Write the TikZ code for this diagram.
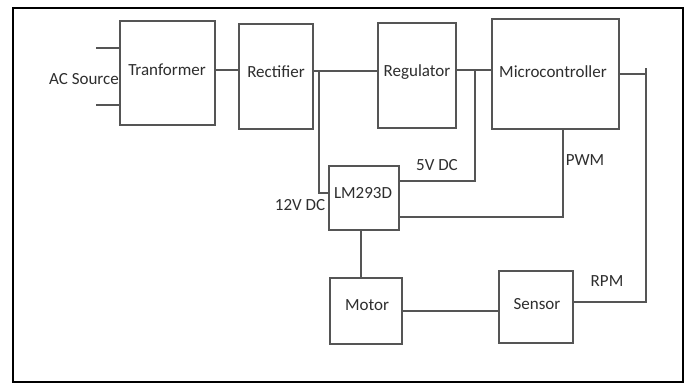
\documentclass[tikz,border=0pt]{standalone}
\usepackage{fontspec}
\setmainfont{Carlito}
\begin{document}
\begin{tikzpicture}[x=1pt,y=-1pt,
  blk/.style={draw=linecol,line width=1.3pt,rectangle,inner sep=0pt},
  wire/.style={draw=linecol,line width=1.3pt},
  lbl/.style={text=textcol,font=\fontsize{17}{19}\selectfont,inner sep=0pt}]
\definecolor{linecol}{HTML}{555555}
\definecolor{textcol}{HTML}{2E2E2E}
\useasboundingbox (0,0) rectangle (690,384);
\fill[white] (0,0) rectangle (690,384);
\draw[black,line width=1.8pt] (13,8) rectangle (683,382);
% blocks
\node[blk,minimum width=95pt,minimum height=104pt] (tr) at (167.5,73) {};
\node[blk,minimum width=74pt,minimum height=105pt] (rect) at (276,76.5) {};
\node[blk,minimum width=78pt,minimum height=105pt] (reg) at (417,75.5) {};
\node[blk,minimum width=127pt,minimum height=110pt] (mc) at (555.5,74) {};
\node[blk,minimum width=70pt,minimum height=64pt] (lm) at (364,198) {};
\node[blk,minimum width=72pt,minimum height=66pt] (mot) at (366,311) {};
\node[blk,minimum width=74pt,minimum height=72pt] (sen) at (536,307) {};
% texts
\node[lbl] (ttr) at (167,70) {Tranformer};
\node[lbl] (trect) at (276,72) {Rectifier};
\node[lbl] (treg) at (417,72) {Regulator};
\node[lbl] (tmc) at (553,72) {Microcontroller};
\node[lbl] (tlm) at (363,193) {LM293D};
\node[lbl] (tmot) at (367,305) {Motor};
\node[lbl] (tsen) at (537,304) {Sensor};
\node[lbl] (tac) at (84,79) {AC Source};
\node[lbl] (t12) at (300,205) {12V DC};
\node[lbl] (t5) at (437,165) {5V DC};
\node[lbl] (tpwm) at (585,160) {PWM};
\node[lbl] (trpm) at (607,281) {RPM};
% junction coordinates
\coordinate (ac1) at (96,48);
\coordinate (ac2) at (96,105);
\coordinate (j12) at (319,71);
\coordinate (j5) at (475,70);
\coordinate (jpwm) at (563,217);
\coordinate (jr) at (646,74);
\coordinate (jrt) at (646,68);
\coordinate (jrb) at (646,302);
% connectors
\draw[wire] (ac1) -- (tr.west |- ac1);
\draw[wire] (ac2) -- (tr.west |- ac2);
\draw[wire] (tr.east |- 0,70) -- (rect.west |- 0,70);
\draw[wire] (rect.east |- j12) -- (reg.west |- j12);
\draw[wire] (j12) -- (319,193) -- (lm.west |- 0,193);
\draw[wire] (reg.east |- j5) -- (mc.west |- j5);
\draw[wire] (j5) -- (475,181) -- (lm.east |- 0,181);
\draw[wire] (mc.south -| jpwm) -- (jpwm) -- (lm.east |- jpwm);
\draw[wire] (mc.east |- jr) -- (jr);
\draw[wire] (jrt) -- (jrb) -- (sen.east |- jrb);
\draw[wire] (lm.south -| 361,0) -- (mot.north -| 361,0);
\draw[wire] (mot.east |- 0,311) -- (sen.west |- 0,311);
\end{tikzpicture}
\end{document}
